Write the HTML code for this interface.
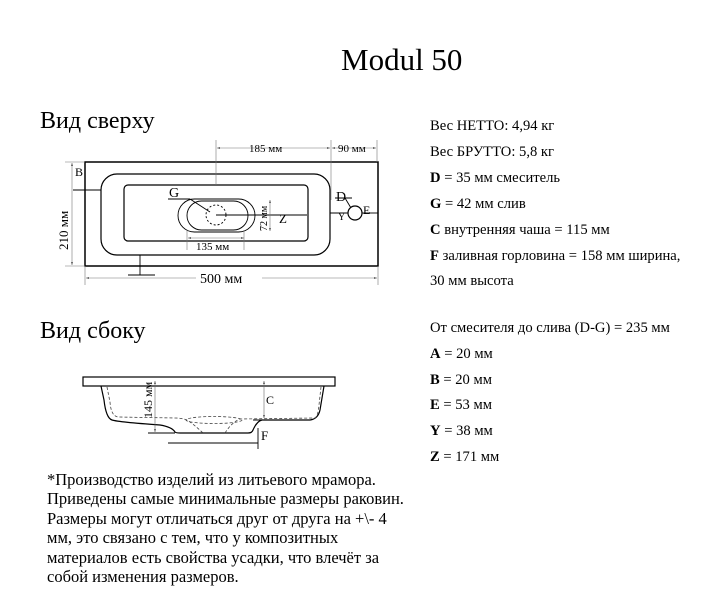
<!DOCTYPE html>
<html><head><meta charset="utf-8"><style>
body{margin:0;background:#fff;}
svg{display:block;font-family:"Liberation Serif",serif;}
</style></head><body>
<svg width="720" height="602" viewBox="0 0 720 602" xmlns="http://www.w3.org/2000/svg">
<defs>
<marker id="a" viewBox="0 0 6 6" refX="6" refY="3" markerWidth="5" markerHeight="5" orient="auto-start-reverse"><path d="M0,1 L6,3 L0,5z" fill="#555"/></marker>
</defs>
<text x="341" y="70" font-size="31">Modul 50</text>
<text x="40" y="128" font-size="24">Вид сверху</text>
<text x="40" y="338" font-size="24">Вид сбоку</text>

<!-- top view -->
<g fill="none" stroke="#000">
<rect x="85" y="162" width="293" height="104" stroke-width="1.5"/>
<rect x="101" y="174" width="229" height="81" rx="16" stroke-width="1.2"/>
<rect x="124" y="185" width="184" height="56" rx="4" stroke-width="1.2"/>
<rect x="178" y="199" width="77" height="33" rx="16.5" stroke-width="0.9"/>
<rect x="187" y="201" width="61" height="29" rx="14.5" stroke-width="0.9"/>
<circle cx="216" cy="215" r="10" stroke-dasharray="2,2" stroke-width="0.9"/>
<line x1="216" y1="215" x2="307" y2="215" stroke-width="0.9"/>
<line x1="168" y1="199" x2="190" y2="199" stroke-width="0.9"/>
<line x1="190" y1="199" x2="210" y2="212" stroke-width="0.9"/>
<circle cx="355" cy="213" r="7" stroke-width="1.2"/>
<line x1="330" y1="213" x2="348" y2="213" stroke-width="0.9"/>
<line x1="362" y1="213" x2="378" y2="213" stroke-width="0.9"/>
<line x1="335" y1="198" x2="352" y2="198" stroke-width="0.9"/>
<line x1="345" y1="198" x2="351" y2="208" stroke-width="0.9"/>
<line x1="73" y1="190" x2="101" y2="190" stroke-width="0.9"/>
<line x1="140" y1="255" x2="140" y2="275" stroke-width="0.9"/>
<line x1="128" y1="275" x2="155" y2="275" stroke-width="0.9"/>
</g>
<g stroke="#777" stroke-width="0.6" fill="none">
<line x1="216" y1="140" x2="216" y2="185"/>
<line x1="331" y1="140" x2="331" y2="200"/>
<line x1="377" y1="140" x2="377" y2="162"/>
<line x1="217" y1="148" x2="330" y2="148" marker-start="url(#a)" marker-end="url(#a)"/>
<line x1="332" y1="148" x2="376" y2="148" marker-start="url(#a)" marker-end="url(#a)"/>
<line x1="72" y1="163" x2="72" y2="265" marker-start="url(#a)" marker-end="url(#a)"/>
<line x1="65" y1="162" x2="85" y2="162"/>
<line x1="65" y1="266" x2="85" y2="266"/>
<line x1="86" y1="278" x2="196" y2="278" marker-start="url(#a)"/>
<line x1="262" y1="278" x2="377" y2="278" marker-end="url(#a)"/>
<line x1="85" y1="266" x2="85" y2="285"/>
<line x1="378" y1="266" x2="378" y2="285"/>
<line x1="188" y1="238" x2="244" y2="238" marker-start="url(#a)" marker-end="url(#a)"/>
<line x1="187" y1="230" x2="187" y2="250"/>
<line x1="244" y1="230" x2="244" y2="250"/>
<line x1="270" y1="200" x2="270" y2="231" marker-start="url(#a)" marker-end="url(#a)"/>
</g>
<text x="249" y="152" font-size="11">185 мм</text>
<text x="338" y="152" font-size="11">90 мм</text>
<text x="200" y="283" font-size="14">500 мм</text>
<text x="196" y="250" font-size="11">135 мм</text>
<text x="75" y="176" font-size="12">B</text>
<text x="169" y="197" font-size="14">G</text>
<text x="336" y="201" font-size="14">D</text>
<text x="363" y="214" font-size="12">E</text>
<text x="338" y="220" font-size="10">Y</text>
<text x="279" y="223" font-size="13">Z</text>
<text transform="translate(68,250) rotate(-90)" font-size="13">210 мм</text>
<text transform="translate(267,231) rotate(-90)" font-size="10">72 мм</text>

<!-- side view -->
<g fill="none" stroke="#000" stroke-width="1.2">
<rect x="83" y="377" width="252" height="9"/>
<path d="M101,386 L104,400 Q106,418 112,420 Q118,422 160,425 Q172,427 175,432 Q176,433 180,433 L248,433 Q252,433 253,430 Q257,421 262,420 L310,420 Q318,419 320,410 L324,386"/>
</g>
<g fill="none" stroke="#444" stroke-width="0.8" stroke-dasharray="3,2">
<path d="M107,387 L110,402 Q111,416 118,417 L175,418 Q185,418 190,422 Q198,428 203,433"/>
<path d="M225,433 Q232,422 240,419 L315,418 Q318,416 319,405 L321,387"/>
<ellipse cx="214" cy="420" rx="28" ry="3.5"/>
</g>
<g stroke="#666" stroke-width="0.6" fill="none">
<line x1="155" y1="381" x2="155" y2="432" marker-start="url(#a)" marker-end="url(#a)"/>
<line x1="264" y1="381" x2="264" y2="418" marker-start="url(#a)" marker-end="url(#a)"/>
</g>
<g stroke="#000" stroke-width="0.9">
<line x1="148" y1="433" x2="175" y2="433"/>
<line x1="168" y1="443" x2="258" y2="443"/>
<line x1="258" y1="428" x2="258" y2="449"/>
<line x1="253" y1="420" x2="272" y2="420"/>
</g>
<text transform="translate(152,418) rotate(-90)" font-size="12">145 мм</text>
<text x="266" y="404" font-size="12">C</text>
<text x="261" y="440" font-size="13">F</text>

<!-- right column -->
<g font-size="14.6">
<text x="430" y="130">Вес НЕТТО: 4,94 кг</text>
<text x="430" y="156">Вес БРУТТО: 5,8 кг</text>
<text x="430" y="182"><tspan font-weight="bold">D</tspan> = 35 мм смеситель</text>
<text x="430" y="208"><tspan font-weight="bold">G</tspan> = 42 мм слив</text>
<text x="430" y="234"><tspan font-weight="bold">C</tspan> внутренняя чаша = 115 мм</text>
<text x="430" y="260"><tspan font-weight="bold">F</tspan> заливная горловина = 158 мм ширина,</text>
<text x="430" y="285">30 мм высота</text>
<text x="430" y="332">От смесителя до слива (D-G) = 235 мм</text>
<text x="430" y="358"><tspan font-weight="bold">A</tspan> = 20 мм</text>
<text x="430" y="384"><tspan font-weight="bold">B</tspan> = 20 мм</text>
<text x="430" y="409"><tspan font-weight="bold">E</tspan> = 53 мм</text>
<text x="430" y="435"><tspan font-weight="bold">Y</tspan> = 38 мм</text>
<text x="430" y="461"><tspan font-weight="bold">Z</tspan> = 171 мм</text>
</g>
<g font-size="16.5">
<text x="47" y="485">*Производство изделий из литьевого мрамора.</text>
<text x="47" y="504">Приведены самые минимальные размеры раковин.</text>
<text x="47" y="524">Размеры могут отличаться друг от друга на +\- 4</text>
<text x="47" y="543">мм, это связано с тем, что у композитных</text>
<text x="47" y="563">материалов есть свойства усадки, что влечёт за</text>
<text x="47" y="582">собой изменения размеров.</text>
</g>
</svg>
</body></html>
